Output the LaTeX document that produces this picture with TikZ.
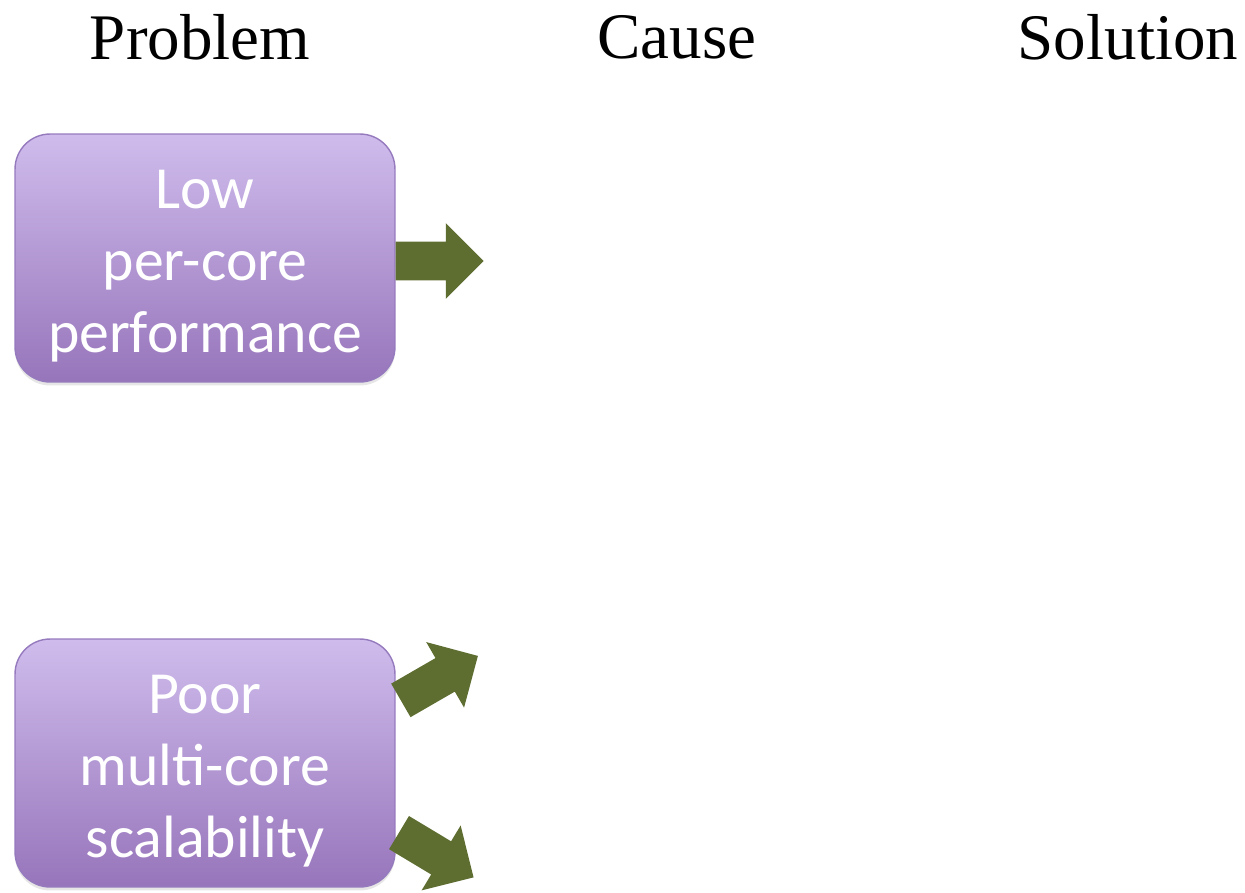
\documentclass[tikz,border=0pt]{standalone}
\usepackage{fontspec}
\setmainfont{Liberation Serif}
\newfontfamily\boxfont{Carlito}
\usetikzlibrary{shapes.arrows,shadows}

\definecolor{boxtop}{RGB}{207,188,236}
\definecolor{boxbottom}{RGB}{151,117,187}
\definecolor{boxline}{RGB}{150,122,190}
\definecolor{arrowgreen}{RGB}{94,110,49}

\tikzset{
    heading/.style={font=\fontsize{37}{44}\selectfont, text=black},
    problem/.style={rounded corners=0.7cm, minimum width=7.6cm, minimum height=4.96cm,
        top color=boxtop, bottom color=boxbottom, draw=boxline, line width=0.8pt,
        drop shadow={shadow xshift=0pt, shadow yshift=-0.07cm, opacity=0.2}},
    boxtext/.style={text=white, align=center, font=\boxfont\fontsize{34}{41}\selectfont},
    blockarrow/.style={single arrow, fill=arrowgreen, draw=none, inner xsep=0pt, inner ysep=0.38cm,
        single arrow head extend=0.37cm, single arrow tip angle=90}
}

\begin{document}
\begin{tikzpicture}[x=0.02cm, y=-0.02cm]
    \useasboundingbox (0, 0) rectangle (1245, 893);

    % Column headings
    \node[heading] (hprob) at (200, 37) {Problem};
    \node[heading] (hcause) at (677, 37) {Cause};
    \node[heading] (hsol) at (1128, 37) {Solution};

    % Problem boxes
    \node[problem] (low) at (205, 258) {};
    \node[boxtext] (lowtext) at (205, 266) {Low\\per-core\\performance};
    \node[problem] (poor) at (205, 763) {};
    \node[boxtext] (poortext) at (205, 771) {Poor\\multi-core\\scalability};

    % Arrows towards the causes
    \node[blockarrow, minimum height=1.76cm] (alow) at (430, 261) {};
    \node[blockarrow, minimum height=1.78cm, rotate=30] (apoorup) at (431, 683) {};
    \node[blockarrow, minimum height=1.74cm, rotate=-31] (apoordown) at (428, 850) {};
\end{tikzpicture}
\end{document}
